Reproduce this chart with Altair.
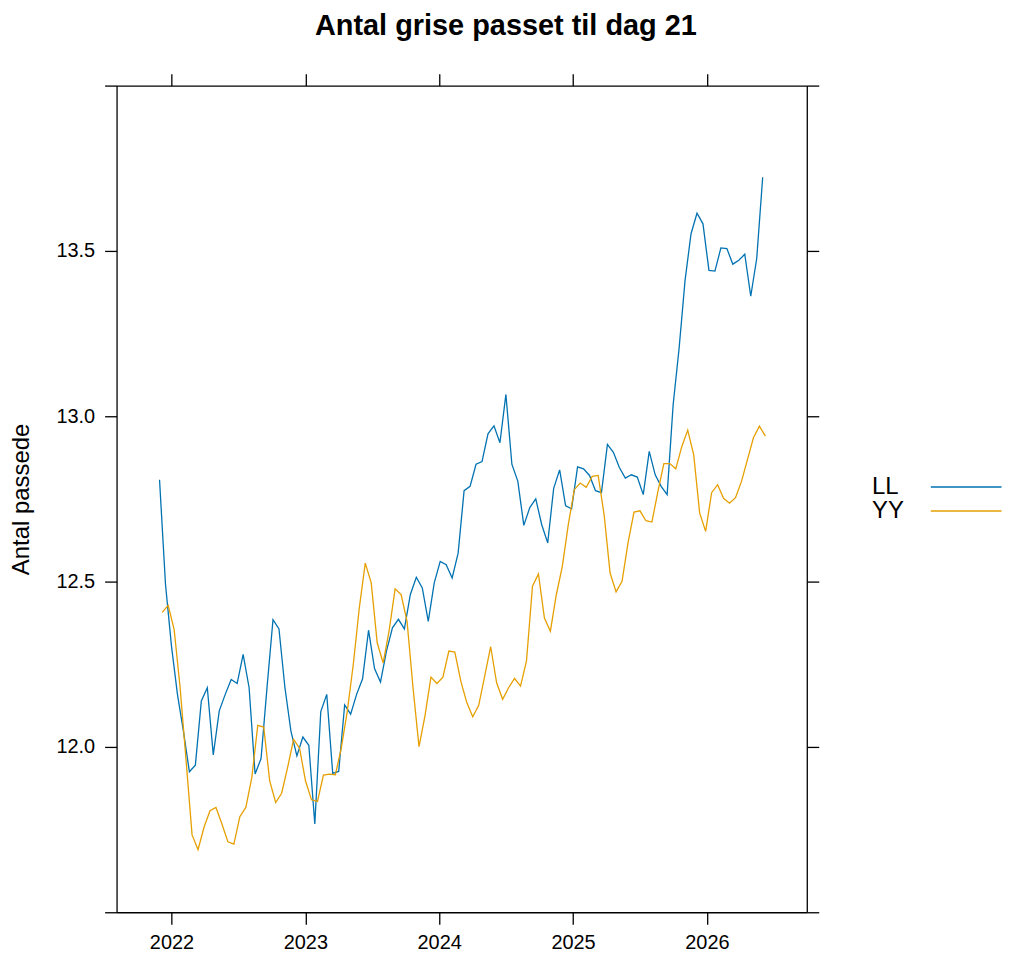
import altair as alt
import pandas as pd

# ---- data ----
ll_values = [
    12.808, 12.491, 12.305, 12.159, 12.048, 11.925, 11.945, 12.139, 12.179, 11.976,
    12.109, 12.159, 12.204, 12.192, 12.280, 12.179, 11.918, 11.965, 12.180, 12.385,
    12.357, 12.179, 12.048, 11.973, 12.030, 12.005, 11.767, 12.107, 12.159, 11.920,
    11.926, 12.127, 12.099, 12.159, 12.206, 12.353, 12.237, 12.196, 12.290, 12.360,
    12.386, 12.357, 12.461, 12.513, 12.481, 12.380, 12.496, 12.561, 12.551, 12.511,
    12.586, 12.775, 12.788, 12.855, 12.863, 12.947, 12.971, 12.920, 13.066, 12.855,
    12.803, 12.670, 12.724, 12.750, 12.672, 12.617, 12.782, 12.838, 12.729, 12.720,
    12.847, 12.841, 12.821, 12.775, 12.769, 12.915, 12.891, 12.845, 12.813, 12.823,
    12.816, 12.763, 12.894, 12.823, 12.788, 12.763, 13.034, 13.205, 13.411, 13.552,
    13.614, 13.582, 13.441, 13.439, 13.509, 13.507, 13.460, 13.472, 13.490, 13.363,
    13.477, 13.723,
]
yy_values = [
    12.407, 12.428, 12.355, 12.179, 11.958, 11.734, 11.689, 11.757, 11.807, 11.817,
    11.767, 11.713, 11.706, 11.789, 11.817, 11.907, 12.065, 12.060, 11.897, 11.832,
    11.860, 11.938, 12.023, 11.996, 11.897, 11.840, 11.835, 11.915, 11.918, 11.916,
    11.998, 12.109, 12.250, 12.420, 12.556, 12.496, 12.315, 12.254, 12.352, 12.478,
    12.461, 12.380, 12.179, 12.001, 12.094, 12.211, 12.192, 12.211, 12.290, 12.287,
    12.199, 12.134, 12.091, 12.126, 12.214, 12.303, 12.194, 12.144, 12.179, 12.207,
    12.184, 12.260, 12.486, 12.523, 12.390, 12.350, 12.461, 12.546, 12.672, 12.778,
    12.798, 12.785, 12.818, 12.821, 12.702, 12.526, 12.469, 12.501, 12.617, 12.710,
    12.714, 12.684, 12.680, 12.772, 12.857, 12.857, 12.841, 12.908, 12.958, 12.883,
    12.707, 12.652, 12.769, 12.793, 12.752, 12.737, 12.754, 12.803, 12.869, 12.935,
    12.970, 12.940,
]
ll_start = 2021.911   # decimal year of first LL observation
yy_start = 2021.931   # decimal year of first YY observation
period = 0.04461      # years between observations

year_ticks = [2022, 2023, 2024, 2025, 2026]
y_ticks = [11.5, 12.0, 12.5, 13.0, 13.5, 14.0]
series_names = ["LL", "YY"]
series_rows = [0, 1]
series_colors = ["#0072B2", "#E69F00"]
title_text = "Antal grise passet til dag 21"
y_title = "Antal passede"

FONT = "Liberation Sans"

df_ll = pd.DataFrame({"t": [ll_start + i * period for i in range(len(ll_values))], "v": ll_values})
df_yy = pd.DataFrame({"t": [yy_start + i * period for i in range(len(yy_values))], "v": yy_values})

xscale = alt.Scale(domain=[2021.59, 2026.746], nice=False, zero=False)
yscale = alt.Scale(domain=[11.5, 14.0], nice=False, zero=False)

ax_common = dict(
    grid=False, domainColor="black", domainWidth=1.3, tickColor="black",
    tickWidth=1.3, tickSize=12, labelFont=FONT, labelFontSize=20,
    labelColor="black",
)

y_label_expr = "datum.value == 11.5 || datum.value == 14 ? '' : format(datum.value, '.1f')"

ll_line = alt.Chart(df_ll).mark_line(color=series_colors[0], strokeWidth=1.3).encode(
    x=alt.X("t:Q", scale=xscale,
            axis=alt.Axis(orient="bottom", values=year_ticks, format="d", title=None,
                          labelPadding=8, **ax_common)),
    y=alt.Y("v:Q", scale=yscale,
            axis=alt.Axis(orient="left", values=y_ticks, labelExpr=y_label_expr,
                          title=y_title, titleFont=FONT, titleFontSize=24,
                          titleFontWeight="normal", titleColor="black", titlePadding=22.5,
                          labelPadding=10, **ax_common)),
)
yy_line = alt.Chart(df_yy).mark_line(color=series_colors[1], strokeWidth=1.3).encode(
    x=alt.X("t:Q", scale=xscale,
            axis=alt.Axis(orient="top", values=year_ticks, labels=False, title=None, **ax_common)),
    y=alt.Y("v:Q", scale=yscale,
            axis=alt.Axis(orient="right", values=y_ticks, labels=False, title=None, **ax_common)),
)

main = alt.layer(ll_line, yy_line).resolve_axis(x="independent", y="independent").properties(
    width=693, height=830
)

# ---- legend panel (labels left, line keys right), rows centred on the plot height ----
leg_df = pd.DataFrame({"name": series_names, "row": series_rows, "color": series_colors})
leg_y = alt.Y("row:Q", scale=alt.Scale(domain=[-16.79, 17.79], reverse=True, nice=False, zero=False),
              axis=None)
leg_text = alt.Chart(leg_df).mark_text(
    align="left", baseline="middle", fontSize=24, font=FONT, color="black"
).encode(x=alt.value(50.5), y=leg_y, text="name:N")
leg_rule = alt.Chart(leg_df).mark_rule(strokeWidth=1.5).encode(
    x=alt.value(109.5), x2=alt.value(180.5), y=leg_y, color=alt.Color("color:N", scale=None)
)
legend = alt.layer(leg_rule, leg_text).properties(width=181, height=830)

chart = alt.hconcat(main, legend, spacing=0).properties(
    title=alt.TitleParams(text=title_text, font=FONT, fontSize=29, fontWeight="bold",
                          color="black", anchor="middle", offset=32),
    padding={"left": 1, "top": 1, "right": 0, "bottom": 0},
).configure(
    font=FONT, background="white", view=alt.ViewConfig(stroke="transparent")
)

chart.save("out.html", embed_options={"renderer": "svg", "actions": False})
